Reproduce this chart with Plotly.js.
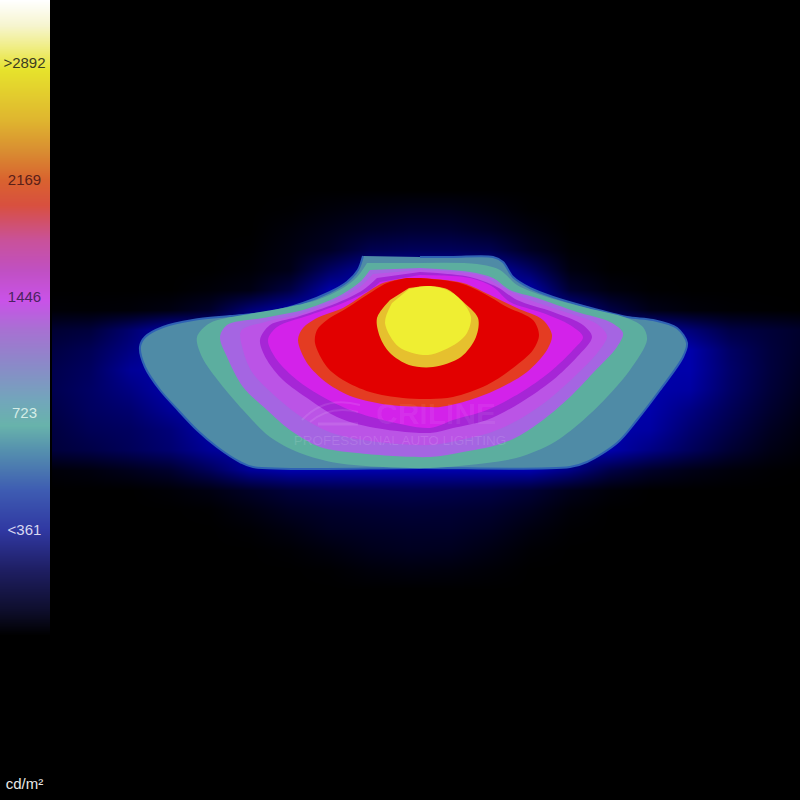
<!DOCTYPE html>
<html><head><meta charset="utf-8">
<script src="https://cdn.plot.ly/plotly-3.0.1.min.js"></script>
<style>html,body{margin:0;padding:0;background:#000}</style></head>
<body><div id="chart" style="width:800px;height:800px"></div>
<script>
// Luminance scale labels
const tickLabels = [">2892","2169","1446","723","<361","cd/m²"];
const tickRows   = [64,181,298,414,531,785];
const tickColors = ["#3c3c20","#5a2018","#4a2460","#d4ece6","#d8d8f0","#e8e8e8"];
// Scale strip: row and colour
const barRows  = [0,25,45,70,120,150,180,205,240,270,300,330,365,400,425,450,490,530,570,610,635,800];
const barColors= ["#ffffff","#f6f5cf","#f0ee8a","#e6e22c","#dfb52f","#d98e31","#d9622f","#d8503f","#c9519a","#c050c2","#c952e8","#a771d2","#8a8ac8","#72a6bb","#68b3ab","#5590ae","#3e5cb2","#3038a2","#1e1e62","#0e0e2c","#000000","#000000"];
// Low-level glow (blue intensity) on a coarse grid
const glowX = [50,90,130,170,210,250,290,330,370,410,450,490,530,570,610,650,690,730,770,810];
const glowY = [190,210,230,250,270,290,310,330,350,370,390,410,430,450,470,490,510,530,550,570,590];
const glowZ = [
 [0,0,0,0,0,0,0,0,0,0,0,0,0,0,0,0,0,0,0,0],
 [0,0,0,0,0,0,2,10,18,24,24,14,2,0,0,0,0,0,0,0],
 [0,0,0,0,0,0,10,24,40,50,50,36,14,0,0,0,0,0,0,0],
 [0,0,0,0,0,2,16,38,80,90,90,80,34,4,0,0,0,0,0,0],
 [0,0,0,0,0,6,24,100,160,170,170,170,100,16,0,0,0,0,0,0],
 [0,0,0,0,8,20,70,170,170,170,170,170,170,50,14,2,0,0,0,0],
 [6,5,8,18,44,120,170,170,170,170,170,170,170,150,70,24,10,4,2,0],
 [50,60,110,170,170,170,170,170,170,170,170,170,170,170,170,170,120,70,55,40],
 [65,85,130,170,170,170,170,170,170,170,170,170,170,170,170,170,170,100,60,35],
 [75,95,150,170,170,170,170,170,170,170,170,170,170,170,170,170,170,105,60,28],
 [78,100,130,170,170,170,170,170,170,170,170,170,170,170,170,170,160,100,55,22],
 [70,95,110,150,170,170,170,170,170,170,170,170,170,170,170,170,130,85,45,14],
 [62,85,95,120,170,170,170,170,170,170,170,170,170,170,170,160,110,70,32,8],
 [58,70,88,110,150,170,170,170,170,170,170,170,170,170,170,130,90,50,20,4],
 [8,14,28,46,90,150,170,170,170,170,170,170,170,130,70,40,22,10,3,0],
 [0,0,0,6,18,40,60,70,74,78,76,70,54,26,8,0,0,0,0,0],
 [0,0,0,0,2,16,34,44,50,54,52,46,30,8,0,0,0,0,0,0],
 [0,0,0,0,0,4,16,32,38,42,42,32,14,2,0,0,0,0,0,0],
 [0,0,0,0,0,0,4,14,26,32,30,18,4,0,0,0,0,0,0,0],
 [0,0,0,0,0,0,0,2,10,14,12,6,0,0,0,0,0,0,0,0],
 [0,0,0,0,0,0,0,0,0,0,0,0,0,0,0,0,0,0,0,0]
];
// Iso-luminance band outlines, outermost first
const steel = [[363,256],[358,270],[347,282],[330,292],[303,303],[270,312],[230,316],[193,320],[163,327],[145,337],[140,347],[145,367],[160,390],[178,410],[197,430],[217,447],[240,462],[253,467],[420,468],[570,467],[587,462],[617,443],[637,420],[660,390],[683,357],[687,343],[677,328],[653,320],[627,317],[587,307],[553,297],[530,288],[513,277],[503,262],[493,257],[453,257],[420,257]];
const teal = [[367,263],[357,277],[343,288],[317,300],[283,308],[243,315],[210,323],[197,337],[202,357],[220,383],[243,410],[270,437],[300,453],[337,463],[383,467],[430,468],[487,463],[520,457],[553,443],[580,423],[607,397],[630,370],[647,340],[643,327],[627,318],[587,308],[547,297],[517,285],[500,270],[477,264],[420,263]];
const lavender = [[370,270],[360,282],[337,297],[303,310],[263,318],[227,325],[220,337],[227,357],[243,387],[267,410],[290,430],[320,447],[357,453],[430,457],[463,452],[497,445],[517,437],[543,420],[570,397],[593,373],[617,347],[623,333],[610,322],[577,312],[537,298],[510,290],[493,278],[470,272],[420,268]];
const violet = [[373,274],[361,286],[337,300],[300,314],[265,322],[241,331],[243,350],[252,372],[275,396],[303,418],[332,433],[370,441],[430,445],[460,440],[492,432],[520,419],[548,400],[575,376],[598,352],[607,336],[597,324],[565,312],[527,299],[503,288],[482,276],[420,270]];
const purple = [[377,278],[363,290],[337,303],[297,317],[270,325],[260,340],[267,360],[283,380],[310,400],[337,417],[370,427],[430,433],[453,428],[487,420],[520,403],[553,380],[577,357],[592,337],[583,325],[553,312],[517,300],[497,287],[470,277],[420,272]];
const magenta = [[380,282],[370,290],[343,303],[310,315],[277,327],[268,340],[277,360],[297,380],[323,397],[350,410],[383,420],[430,428],[453,420],[487,410],[520,393],[550,372],[573,350],[583,337],[570,325],[543,313],[510,302],[493,287],[470,278],[420,275]];
const orange = [[407,278],[383,283],[363,295],[343,308],[317,318],[303,328],[298,340],[307,363],[327,383],[353,397],[390,405],[430,407],[440,407],[470,400],[500,388],[527,372],[547,350],[552,335],[543,320],[517,308],[490,295],[463,283],[420,278]];
const red = [[407,278],[387,283],[367,295],[347,308],[327,320],[317,330],[315,343],[327,367],[343,380],[370,392],[403,398],[430,399],[453,397],[487,385],[513,368],[533,350],[539,335],[533,320],[507,307],[483,293],[460,283],[420,278]];
const amber = [[409,288],[428,286],[447,289],[461,300],[478,318],[476,337],[461,357],[433,367],[409,365],[390,353],[380,337],[377,318],[390,300]];
const yellow = [[409,289],[428,286],[447,290],[461,300],[471,317],[467,333],[457,343],[428,355],[399,347],[385,323],[392,303]];

const bands = [
 [steel,"#4f8ba6"],[teal,"#5cae9f"],[lavender,"#a565e2"],[violet,"#bb54e6"],[purple,"#a626d6"],
 [magenta,"#d322ea"],[orange,"#e43c22"],[red,"#e20000"],[amber,"#e6c02e"],[yellow,"#efee32"]
];
const traces = [{type:"heatmap",x:glowX,y:glowY,z:glowZ,zmin:0,zmax:200,zsmooth:"best",showscale:false,hoverinfo:"skip",
  colorscale:[[0,"#000000"],[1,"#0000c8"]]}];
bands.forEach(([pts,col],i)=>traces.push({
  type:"scatter",mode:"lines",fill:"toself",fillcolor:col,hoverinfo:"skip",showlegend:false,
  x:pts.map(p=>p[0]),y:pts.map(p=>p[1]),
  line:{color:i===0?"#2f62b4":col,width:i===0?2:0,shape:"spline",smoothing:0.9}
}));
// Colour strip
const bMax = barRows[barRows.length-1];
traces.push({type:"heatmap",x:[0,25,50],y:barRows,z:barRows.map(r=>[r,r]),zmin:0,zmax:bMax,
  colorscale:barRows.map((r,i)=>[r/bMax,barColors[i]]),showscale:false,hoverinfo:"skip",zsmooth:"best"});
traces.push({type:"scatter",mode:"text",x:tickLabels.map(()=>24.5),y:tickRows,text:tickLabels,
  textposition:"middle center",textfont:{family:"Liberation Sans",size:15,color:tickColors},hoverinfo:"skip",showlegend:false});
// Watermark
traces.push({type:"scatter",mode:"text",x:[436,400],y:[416,442],text:["<b>CRILINE</b>","PROFESSIONAL AUTO LIGHTING"],
  textposition:"middle center",textfont:{family:"Liberation Sans",size:[30,13.5],color:["rgba(255,255,255,0.07)","rgba(255,255,255,0.12)"]},hoverinfo:"skip",showlegend:false});

Plotly.newPlot("chart",traces,{
  width:800,height:800,margin:{l:0,r:0,t:0,b:0},paper_bgcolor:"#000",plot_bgcolor:"#000",showlegend:false,
  xaxis:{range:[0,800],visible:false,fixedrange:true},
  yaxis:{range:[800,0],visible:false,fixedrange:true},
  shapes:[
   {type:"rect",x0:50,x1:52,y0:0,y1:800,fillcolor:"#000",line:{width:0}},
   {type:"path",path:"M 302 420 Q 325 395 360 405",line:{color:"rgba(255,255,255,0.10)",width:2}},
   {type:"path",path:"M 310 422 Q 330 405 358 412",line:{color:"rgba(255,255,255,0.10)",width:2}},
   {type:"path",path:"M 318 424 L 358 424",line:{color:"rgba(255,255,255,0.10)",width:3}}
  ]
},{displayModeBar:false,staticPlot:true});
</script></body></html>
